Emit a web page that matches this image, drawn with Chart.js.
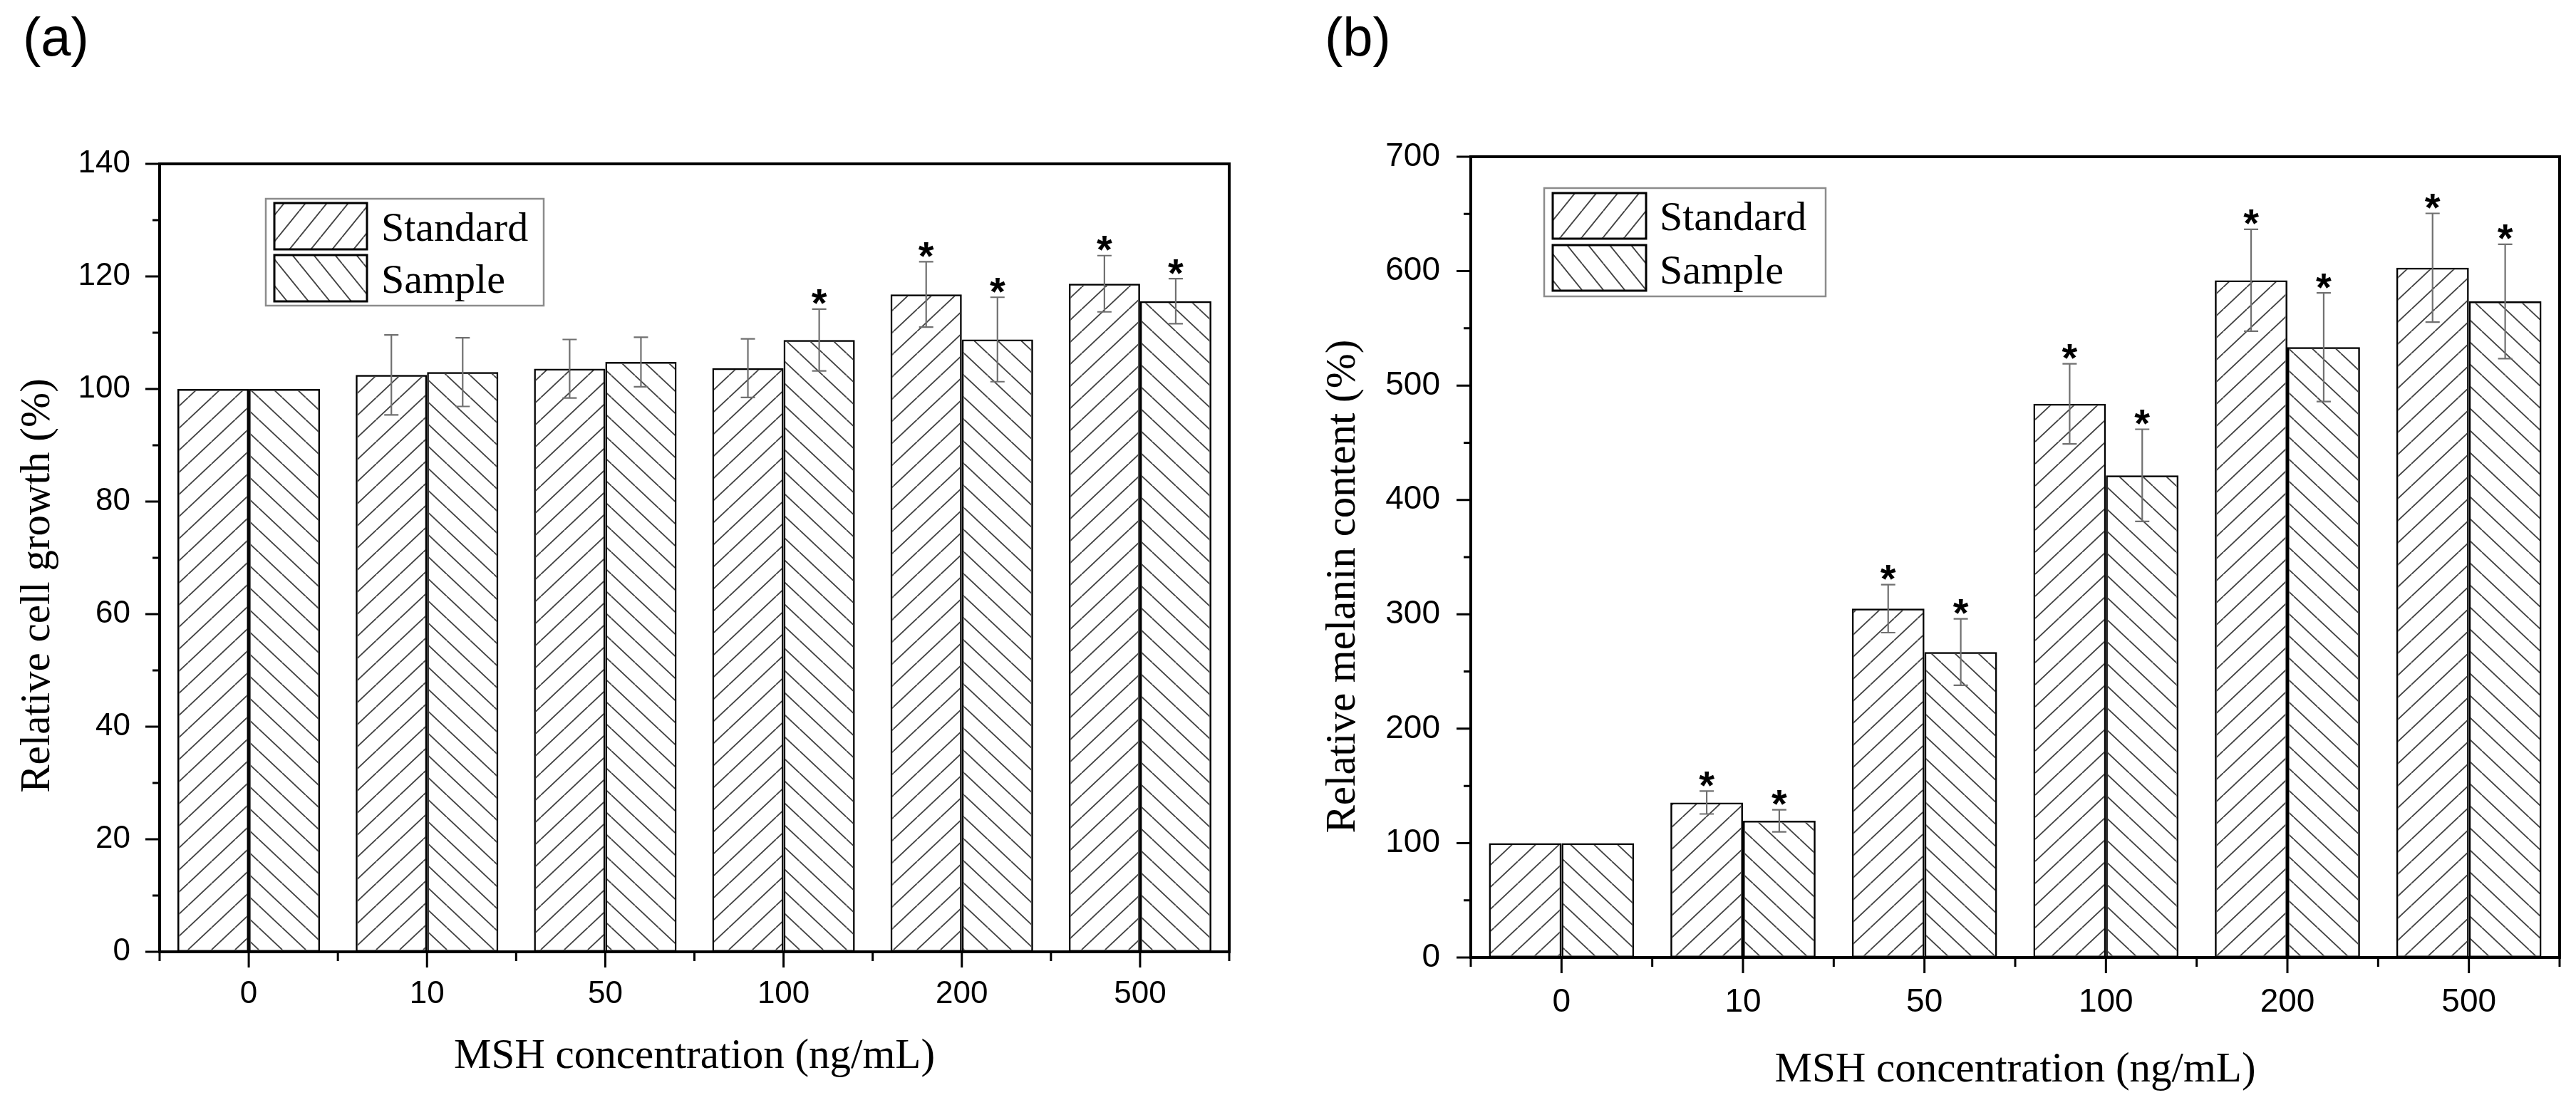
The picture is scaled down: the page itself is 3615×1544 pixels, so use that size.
<!DOCTYPE html>
<html>
<head>
<meta charset="utf-8">
<script src="https://cdn.jsdelivr.net/npm/chart.js@4.4.1/dist/chart.umd.min.js"></script>
<style>
  html, body { margin: 0; padding: 0; background: #fff; }
  #wrap { position: relative; width: 3615px; height: 1544px; overflow: hidden; }
  canvas { position: absolute; top: 0; }
</style>
</head>
<body>
<div id="wrap">
  <canvas id="chartA" width="1800" height="1544" style="left:0"></canvas>
  <canvas id="chartB" width="1815" height="1544" style="left:1800px"></canvas>
</div>
<script>
/* =========================
   DATOS
========================= */
const CATEGORIES = ['0', '10', '50', '100', '200', '500'];
const SERIES = ['Standard', 'Sample'];

// (a) Relative cell growth (%)
const growthStandard    = [100, 102.5, 103.6, 103.7, 116.8, 118.7];
const growthStandardErr = [0, 7.1, 5.2, 5.2, 5.8, 5.0];
const growthStandardSig = [false, false, false, false, true, true];
const growthSample      = [100, 103.0, 104.8, 108.7, 108.8, 115.6];
const growthSampleErr   = [0, 6.1, 4.4, 5.5, 7.5, 4.0];
const growthSampleSig   = [false, false, false, true, true, true];
const growthTicks       = { min: 0, max: 140, step: 20 };

// (b) Relative melanin content (%)
const melaninStandard    = [100, 135.5, 305, 484, 592, 603];
const melaninStandardErr = [0, 10, 21, 35, 44.5, 47.5];
const melaninStandardSig = [false, true, true, true, true, true];
const melaninSample      = [100, 119.5, 267, 421.5, 533.5, 573.5];
const melaninSampleErr   = [0, 9.6, 29, 40.3, 47.5, 50];
const melaninSampleSig   = [false, true, true, true, true, true];
const melaninTicks       = { min: 0, max: 700, step: 100 };

/* =========================
   TRAMAS (HATCH)
========================= */
function makeHatch(dir, w, h) {
  const c = document.createElement('canvas');
  c.width = w;
  c.height = h;
  const g = c.getContext('2d');
  g.strokeStyle = '#444';
  g.lineWidth = 1.9;
  g.beginPath();
  for (let k = -1; k <= 1; k++) {
    if (dir === '/') {
      g.moveTo(k * w, h);
      g.lineTo(k * w + w, 0);
    } else {
      g.moveTo(k * w, 0);
      g.lineTo(k * w + w, h);
    }
  }
  g.stroke();
  return g.createPattern(c, 'repeat');
}

const barHatch = [makeHatch('/', 33, 31), makeHatch('\\', 33, 31)];
const legendHatch = [makeHatch('/', 30, 37), makeHatch('\\', 30, 37)];

const SERIF = '"Liberation Serif", "Times New Roman", serif';
const SANS = '"Liberation Sans", Arial, sans-serif';

/* =========================
   PLUGINS
========================= */
// barras de error + asteriscos
const errorBarsPlugin = {
  id: 'errorBars',
  afterDatasetsDraw(chart, args, opts) {
    const { ctx } = chart;
    const yScale = chart.scales.y;
    ctx.save();
    ctx.font = 'bold 56px ' + SANS;
    ctx.textAlign = 'center';
    ctx.textBaseline = 'alphabetic';
    const m = ctx.measureText('*');
    const starMid = (m.actualBoundingBoxAscent - m.actualBoundingBoxDescent) / 2;

    chart.data.datasets.forEach((ds, i) => {
      const meta = chart.getDatasetMeta(i);
      const errs = opts.errors[i];
      const sig = opts.stars[i];
      meta.data.forEach((bar, j) => {
        const v = ds.data[j];
        const e = errs[j];
        const yTop = yScale.getPixelForValue(v + e);
        const yBot = yScale.getPixelForValue(v - e);
        if (e > 0) {
          ctx.strokeStyle = '#707070';
          ctx.lineWidth = 2.2;
          ctx.beginPath();
          ctx.moveTo(bar.x, yTop);
          ctx.lineTo(bar.x, yBot);
          ctx.moveTo(bar.x - 10, yTop);
          ctx.lineTo(bar.x + 10, yTop);
          ctx.moveTo(bar.x - 10, yBot);
          ctx.lineTo(bar.x + 10, yBot);
          ctx.stroke();
        }
        if (sig[j]) {
          ctx.fillStyle = '#000';
          ctx.fillText('*', bar.x, yTop - opts.starGap + starMid);
        }
      });
    });
    ctx.restore();
  }
};

// marco, ticks mayores y menores
const framePlugin = {
  id: 'frame',
  afterDatasetsDraw(chart) {
    const { ctx, chartArea: a } = chart;
    const x = chart.scales.x;
    const y = chart.scales.y;
    const step = y.options.ticks.stepSize;
    ctx.save();
    ctx.strokeStyle = '#000';
    ctx.lineWidth = 4;
    ctx.strokeRect(a.left, a.top, a.right - a.left, a.bottom - a.top);

    ctx.lineWidth = 3;
    ctx.beginPath();
    for (let v = y.min; v <= y.max; v += step / 2) {
      const py = y.getPixelForValue(v);
      const len = (v % step === 0) ? 20 : 10;
      ctx.moveTo(a.left - len, py);
      ctx.lineTo(a.left, py);
    }
    x.ticks.forEach((t, i) => {
      const px = x.getPixelForTick(i);
      ctx.moveTo(px, a.bottom);
      ctx.lineTo(px, a.bottom + 22);
    });
    for (let i = 0; i <= x.ticks.length; i++) {
      const px = x.getPixelForValue(i - 0.5);
      ctx.moveTo(px, a.bottom);
      ctx.lineTo(px, a.bottom + 13);
    }
    ctx.stroke();
    ctx.restore();
  }
};

// leyenda, títulos de ejes y etiqueta de panel
const annotatePlugin = {
  id: 'annotate',
  afterDraw(chart, args, o) {
    const { ctx, chartArea: a } = chart;
    ctx.save();

    // leyenda
    const L = o.legend;
    ctx.strokeStyle = '#8c8c8c';
    ctx.lineWidth = 2.5;
    ctx.strokeRect(L.x, L.y, L.w, L.h);
    ctx.font = '58px ' + SERIF;
    ctx.textAlign = 'left';
    ctx.textBaseline = 'alphabetic';
    SERIES.forEach((name, i) => {
      const sy = L.swatchY[i];
      ctx.fillStyle = '#fff';
      ctx.fillRect(L.sx, sy, L.sw, L.sh);
      ctx.fillStyle = legendHatch[i];
      ctx.fillRect(L.sx, sy, L.sw, L.sh);
      ctx.strokeStyle = '#000';
      ctx.lineWidth = 3;
      ctx.strokeRect(L.sx, sy, L.sw, L.sh);
      ctx.fillStyle = '#000';
      ctx.fillText(name, L.tx, L.baseline[i]);
    });

    // títulos
    ctx.fillStyle = '#000';
    ctx.font = '59px ' + SERIF;
    ctx.textAlign = 'center';
    ctx.textBaseline = 'middle';
    ctx.fillText(o.xTitle, (a.left + a.right) / 2, o.xTitleY);
    ctx.save();
    ctx.translate(o.yTitleX, o.yTitleY);
    ctx.rotate(-Math.PI / 2);
    ctx.fillText(o.yTitle, 0, 0);
    ctx.restore();

    // (a) / (b)
    ctx.font = '76px ' + SANS;
    ctx.textAlign = 'left';
    ctx.textBaseline = 'alphabetic';
    ctx.fillText(o.panel, o.panelX, 78);
    ctx.restore();
  }
};

/* =========================
   CONSTRUCTOR DE GRÁFICA
========================= */
function buildChart(id, cfg) {
  const ctx = document.getElementById(id).getContext('2d');
  return new Chart(ctx, {
    type: 'bar',
    data: {
      labels: CATEGORIES,
      datasets: SERIES.map((name, i) => ({
        label: name,
        data: cfg.values[i],
        backgroundColor: barHatch[i],
        borderColor: '#000',
        borderWidth: 2.5,
        borderSkipped: false,
        categoryPercentage: 0.8,
        barPercentage: 1.0
      }))
    },
    options: {
      responsive: false,
      animation: false,
      devicePixelRatio: 1,
      layout: { padding: cfg.padding },
      events: [],
      plugins: {
        legend: { display: false },
        tooltip: { enabled: false },
        errorBars: { errors: cfg.errors, stars: cfg.stars, starGap: 17 },
        annotate: cfg.annotate
      },
      scales: {
        x: {
          offset: true,
          grid: { display: false, drawTicks: false },
          border: { display: false },
          ticks: {
            color: '#000',
            padding: cfg.xPad,
            font: { family: SANS, size: cfg.tickSize },
            maxRotation: 0,
            autoSkip: false
          },
          afterFit: (s) => { s.height = cfg.xHeight; }
        },
        y: {
          min: cfg.ticks.min,
          max: cfg.ticks.max,
          grid: { display: false, drawTicks: false },
          border: { display: false },
          ticks: {
            stepSize: cfg.ticks.step,
            color: '#000',
            padding: cfg.yPad,
            font: { family: SANS, size: cfg.tickSize }
          },
          afterFit: (s) => { s.width = cfg.yWidth; }
        }
      }
    },
    plugins: [errorBarsPlugin, framePlugin, annotatePlugin]
  });
}

/* =========================
   (a) CRECIMIENTO CELULAR
========================= */
buildChart('chartA', {
  values: [growthStandard, growthSample],
  errors: [growthStandardErr, growthSampleErr],
  stars: [growthStandardSig, growthSampleSig],
  ticks: growthTicks,
  padding: { left: 0, right: 75, top: 230, bottom: 0 },
  yWidth: 224,
  xHeight: 208,
  tickSize: 44,
  xPad: 33,
  yPad: 41,
  annotate: {
    panel: '(a)',
    panelX: 32,
    xTitle: 'MSH concentration (ng/mL)',
    xTitleY: 1483,
    yTitle: 'Relative cell growth (%)',
    yTitleX: 53,
    yTitleY: 822,
    legend: {
      x: 373, y: 279, w: 390, h: 150,
      sx: 385, sw: 130, sh: 65, swatchY: [285, 358],
      tx: 535, baseline: [338, 411]
    }
  }
});

/* =========================
   (b) CONTENIDO DE MELANINA
========================= */
buildChart('chartB', {
  values: [melaninStandard, melaninSample],
  errors: [melaninStandardErr, melaninSampleErr],
  stars: [melaninStandardSig, melaninSampleSig],
  ticks: melaninTicks,
  padding: { left: 0, right: 23, top: 220, bottom: 0 },
  yWidth: 264,
  xHeight: 200,
  tickSize: 46,
  xPad: 36,
  yPad: 43,
  annotate: {
    panel: '(b)',
    panelX: 59,
    xTitle: 'MSH concentration (ng/mL)',
    xTitleY: 1502,
    yTitle: 'Relative melanin content (%)',
    yTitleX: 85,
    yTitleY: 823,
    legend: {
      x: 367, y: 264, w: 395, h: 152,
      sx: 379, sw: 131, sh: 64, swatchY: [271, 344],
      tx: 529, baseline: [323, 398]
    }
  }
});
</script>
</body>
</html>
